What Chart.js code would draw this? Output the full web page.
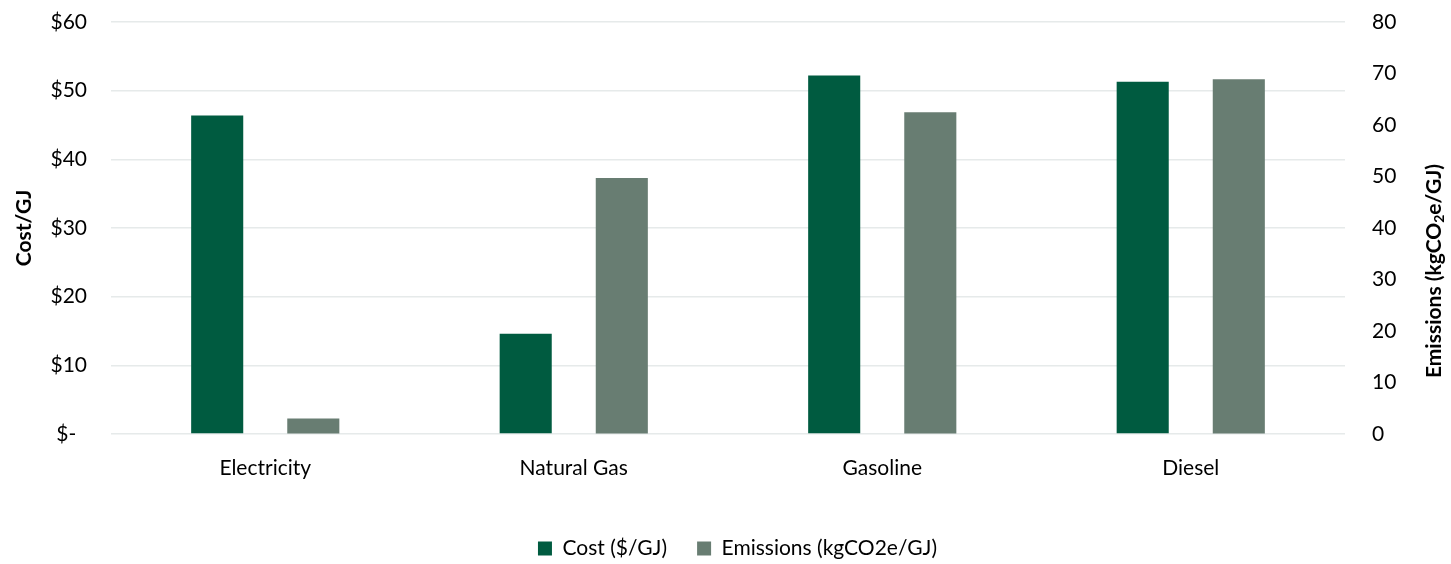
<!DOCTYPE html>
<html>
<head>
<meta charset="utf-8">
<script src="https://cdn.jsdelivr.net/npm/chart.js@4.4.0/dist/chart.umd.min.js"></script>
<style>
  html, body { margin: 0; padding: 0; background: #fff; }
  #wrap { width: 1451px; height: 564px; }
</style>
</head>
<body>
<div id="wrap"><canvas id="myChart"></canvas></div>
<script>
// fuel categories and the two series
const fuels = ['Electricity', 'Natural Gas', 'Gasoline', 'Diesel'];
const costPerGJ = [46.4, 14.6, 52.2, 51.3];
const emissionsPerGJ = [3.0, 49.7, 62.5, 68.9];

// left axis labels, one per $10 step
const costTickLabels = ['$-  ', '$10', '$20', '$30', '$40', '$50', '$60'];

const FONT = 'Lato';
const costColor = '#005B40';
const emisColor = '#687D72';
const gridColor = '#E6EAEA';

// vertical right-hand title, read bottom to top, with a subscript 2
const rightTitle = {
  id: 'rightTitle',
  afterDraw(chart) {
    const ctx = chart.ctx;
    const area = chart.chartArea;
    const big = 'bold 21px ' + FONT;
    const small = 'bold 14px ' + FONT;
    const parts = [
      { t: 'Emissions (kgCO', f: big, dy: 0 },
      { t: '2', f: small, dy: 5 },
      { t: 'e/GJ)', f: big, dy: 0 }
    ];
    let total = 0;
    parts.forEach(p => { ctx.font = p.f; p.w = ctx.measureText(p.t).width; total += p.w; });
    ctx.save();
    ctx.translate(chart.width - 17, (area.top + area.bottom) / 2 + 43);
    ctx.rotate(-Math.PI / 2);
    ctx.fillStyle = '#000';
    ctx.textBaseline = 'middle';
    ctx.textAlign = 'left';
    let x = -total / 2;
    parts.forEach(p => {
      ctx.font = p.f;
      ctx.fillText(p.t, x, p.dy);
      x += p.w;
    });
    ctx.restore();
  }
};

const data = {
  labels: fuels,
  datasets: [
    {
      label: 'Cost ($/GJ)',
      data: costPerGJ,
      backgroundColor: costColor,
      yAxisID: 'y'
    },
    {
      label: 'Emissions (kgCO2e/GJ)',
      data: emissionsPerGJ,
      backgroundColor: emisColor,
      yAxisID: 'y1'
    }
  ]
};

// fixed axis widths; drop the label overhang so the plot can reach the top
function fitY(width) {
  return scale => {
    scale.width = width;
    scale.paddingTop = 0;
    scale.paddingBottom = 0;
  };
}

const config = {
  type: 'bar',
  data: data,
  options: {
    responsive: true,
    maintainAspectRatio: false,
    animation: false,
    layout: { padding: { top: 22, left: 24, right: 0, bottom: -5 } },
    datasets: {
      bar: { categoryPercentage: 0.623, barPercentage: 0.542 }
    },
    plugins: {
      legend: {
        position: 'bottom',
        labels: {
          color: '#000',
          font: { family: FONT, size: 21 },
          boxWidth: 14,
          boxHeight: 14,
          padding: 30
        }
      },
      tooltip: { enabled: false }
    },
    scales: {
      x: {
        afterFit(scale) { scale.height = 74; },
        grid: { display: false },
        border: { display: false },
        ticks: { color: '#000', font: { family: FONT, size: 21 }, padding: 14, maxRotation: 0 }
      },
      y: {
        position: 'left',
        min: 0,
        max: 60,
        afterFit: fitY(87),
        grid: { color: gridColor, lineWidth: 1.5, drawTicks: false },
        border: { display: false },
        ticks: {
          stepSize: 10,
          padding: 24,
          color: '#000',
          font: { family: FONT, size: 21 },
          callback: v => costTickLabels[v / 10]
        },
        title: {
          display: true,
          text: 'Cost/GJ',
          color: '#000',
          font: { family: FONT, size: 21, weight: 'bold' },
          padding: { top: -12, bottom: 0 }
        }
      },
      y1: {
        position: 'right',
        min: 0,
        max: 80,
        afterFit: fitY(106),
        grid: { drawOnChartArea: false, drawTicks: false },
        border: { display: false },
        ticks: {
          stepSize: 10,
          padding: 27,
          color: '#000',
          font: { family: FONT, size: 21 }
        }
      }
    }
  },
  plugins: [rightTitle]
};

const myChart = new Chart(document.getElementById('myChart'), config);
</script>
</body>
</html>
